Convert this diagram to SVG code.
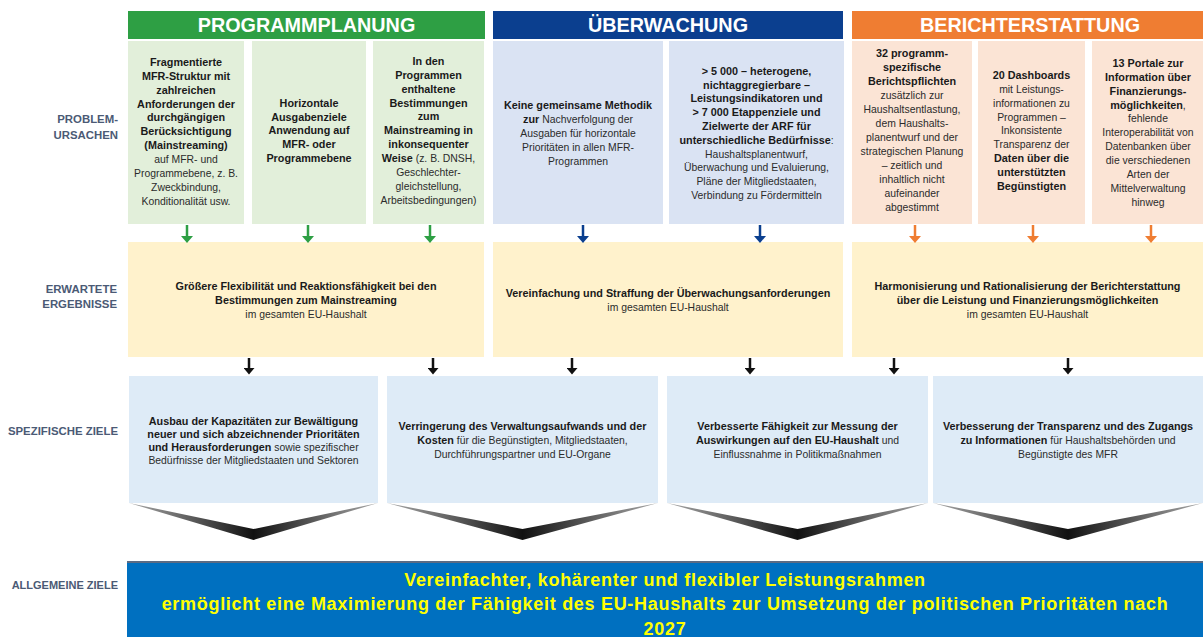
<svg xmlns="http://www.w3.org/2000/svg" width="1203" height="637" viewBox="0 0 1203 637">
<style>
.t{font-family:"Liberation Sans",Arial,sans-serif;text-anchor:middle;fill:#1a1a1a}
.b{font-weight:700;font-size:10.8px}
.r{font-weight:400;font-size:10.4px;fill:#2b2b2b}
.hd{font-family:"Liberation Sans",Arial,sans-serif;font-weight:700;font-size:19.8px;fill:#fff;text-anchor:middle}
.lbl{font-family:"Liberation Sans",Arial,sans-serif;font-weight:700;font-size:11.4px;fill:#4b5a75;text-anchor:end}
.ban{font-family:"Liberation Sans",Arial,sans-serif;font-weight:700;font-size:18px;letter-spacing:0.7px;fill:#ffff00;text-anchor:middle}
.pg{fill:#e2efda}.pb{fill:#dae3f3}.po{fill:#fbe4d5}.ey{fill:#fff2cc}.sz{fill:#deebf7}
.chev{fill:url(#chevGrad)}
</style>
<defs>
<linearGradient id="chevGrad" x1="0" y1="0" x2="1" y2="0">
<stop offset="0" stop-color="#a8a8a8"/><stop offset="0.5" stop-color="#111"/><stop offset="1" stop-color="#a8a8a8"/>
</linearGradient>
<marker id="hG" viewBox="0 0 12 7" refX="6" refY="0" markerWidth="12" markerHeight="7" markerUnits="userSpaceOnUse"><path d="M0,0 L12,0 L6,7 z" fill="#2e9f44"/></marker>
<marker id="hB" viewBox="0 0 12 7" refX="6" refY="0" markerWidth="12" markerHeight="7" markerUnits="userSpaceOnUse"><path d="M0,0 L12,0 L6,7 z" fill="#0b3f8f"/></marker>
<marker id="hO" viewBox="0 0 12 7" refX="6" refY="0" markerWidth="12" markerHeight="7" markerUnits="userSpaceOnUse"><path d="M0,0 L12,0 L6,7 z" fill="#ef7d32"/></marker>
<marker id="hK" viewBox="0 0 12 7" refX="6" refY="0" markerWidth="11" markerHeight="7" markerUnits="userSpaceOnUse"><path d="M0,0 L12,0 L6,7 z" fill="#111"/></marker>
</defs>
<rect width="1203" height="637" fill="#fff"/>

<g id="row-labels">
<text class="lbl" x="118" y="122.5">PROBLEM-</text>
<text class="lbl" x="118" y="139">URSACHEN</text>
<text class="lbl" x="117" y="292.5">ERWARTETE</text>
<text class="lbl" x="117" y="307.5">ERGEBNISSE</text>
<text class="lbl" x="118" y="435">SPEZIFISCHE ZIELE</text>
<text class="lbl" x="118" y="589" style="font-size:11px">ALLGEMEINE ZIELE</text>
</g>

<g id="header-programmplanung"><rect x="128" y="11" width="357" height="28" fill="#2e9f44"/><text class="hd" x="306.5" y="32">PROGRAMMPLANUNG</text></g>
<g id="header-ueberwachung"><rect x="493" y="11" width="350" height="28" fill="#0b3f8f"/><text class="hd" x="668" y="32">ÜBERWACHUNG</text></g>
<g id="header-berichterstattung"><rect x="852" y="11" width="351" height="28" fill="#ef7d32"/><text class="hd" x="1030" y="32">BERICHTERSTATTUNG</text></g>

<g id="p1"><rect class="pg" x="128" y="41" width="116" height="183"/>
<text class="t" y="65.8"><tspan class="b" x="186">Fragmentierte</tspan><tspan class="b" x="186" dy="13.9">MFR-Struktur mit</tspan><tspan class="b" x="186" dy="13.9">zahlreichen</tspan><tspan class="b" x="186" dy="13.9">Anforderungen der</tspan><tspan class="b" x="186" dy="13.9">durchgängigen</tspan><tspan class="b" x="186" dy="13.9">Berücksichtigung</tspan><tspan class="b" x="186" dy="13.9">(Mainstreaming)</tspan><tspan class="r" x="186" dy="13.9">auf MFR- und</tspan><tspan class="r" x="186" dy="13.9">Programmebene, z. B.</tspan><tspan class="r" x="186" dy="13.9">Zweckbindung,</tspan><tspan class="r" x="186" dy="13.9">Konditionalität usw.</tspan></text></g>

<g id="p2"><rect class="pg" x="252" y="41" width="114" height="183"/>
<text class="t" y="106.8"><tspan class="b" x="309">Horizontale</tspan><tspan class="b" x="309" dy="13.8">Ausgabenziele</tspan><tspan class="b" x="309" dy="13.8">Anwendung auf</tspan><tspan class="b" x="309" dy="13.8">MFR- oder</tspan><tspan class="b" x="309" dy="13.8">Programmebene</tspan></text></g>

<g id="p3"><rect class="pg" x="373" y="41" width="111" height="183"/>
<text class="t" y="64.8"><tspan class="b" x="428.5">In den</tspan><tspan class="b" x="428.5" dy="13.9">Programmen</tspan><tspan class="b" x="428.5" dy="13.9">enthaltene</tspan><tspan class="b" x="428.5" dy="13.9">Bestimmungen</tspan><tspan class="b" x="428.5" dy="13.9">zum</tspan><tspan class="b" x="428.5" dy="13.9">Mainstreaming in</tspan><tspan class="b" x="428.5" dy="13.9">inkonsequenter</tspan><tspan x="428.5" dy="13.9"><tspan class="b">Weise</tspan><tspan class="r"> (z. B. DNSH,</tspan></tspan><tspan class="r" x="428.5" dy="13.9">Geschlechter-</tspan><tspan class="r" x="428.5" dy="13.9">gleichstellung,</tspan><tspan class="r" x="428.5" dy="13.9">Arbeitsbedingungen)</tspan></text></g>

<g id="m1"><rect class="pb" x="493" y="41" width="170" height="183"/>
<text class="t" y="108.8"><tspan class="b" x="578">Keine gemeinsame Methodik</tspan><tspan x="578" dy="14"><tspan class="b">zur</tspan><tspan class="r"> Nachverfolgung der</tspan></tspan><tspan class="r" x="578" dy="14">Ausgaben für horizontale</tspan><tspan class="r" x="578" dy="14">Prioritäten in allen MFR-</tspan><tspan class="r" x="578" dy="14">Programmen</tspan></text></g>

<g id="m2"><rect class="pb" x="669" y="41" width="175" height="183"/>
<text class="t" y="74.8"><tspan class="b" x="756.5">&gt; 5 000 – heterogene,</tspan><tspan class="b" x="756.5" dy="13.8">nichtaggregierbare –</tspan><tspan class="b" x="756.5" dy="13.8">Leistungsindikatoren und</tspan><tspan class="b" x="756.5" dy="13.8">&gt; 7 000 Etappenziele und</tspan><tspan class="b" x="756.5" dy="13.8">Zielwerte der ARF für</tspan><tspan x="756.5" dy="13.8"><tspan class="b">unterschiedliche Bedürfnisse</tspan><tspan class="r">:</tspan></tspan><tspan class="r" x="756.5" dy="13.8">Haushaltsplanentwurf,</tspan><tspan class="r" x="756.5" dy="13.8">Überwachung und Evaluierung,</tspan><tspan class="r" x="756.5" dy="13.8">Pläne der Mitgliedstaaten,</tspan><tspan class="r" x="756.5" dy="13.8">Verbindung zu Fördermitteln</tspan></text></g>

<g id="r1"><rect class="po" x="852" y="41" width="120" height="183"/>
<text class="t" y="56.8"><tspan class="b" x="912">32 programm-</tspan><tspan class="b" x="912" dy="14">spezifische</tspan><tspan class="b" x="912" dy="14">Berichtspflichten</tspan><tspan class="r" x="912" dy="14">zusätzlich zur</tspan><tspan class="r" x="912" dy="14">Haushaltsentlastung,</tspan><tspan class="r" x="912" dy="14">dem Haushalts-</tspan><tspan class="r" x="912" dy="14">planentwurf und der</tspan><tspan class="r" x="912" dy="14">strategischen Planung</tspan><tspan class="r" x="912" dy="14">– zeitlich und</tspan><tspan class="r" x="912" dy="14">inhaltlich nicht</tspan><tspan class="r" x="912" dy="14">aufeinander</tspan><tspan class="r" x="912" dy="14">abgestimmt</tspan></text></g>

<g id="r2"><rect class="po" x="978" y="41" width="107" height="183"/>
<text class="t" y="78.8"><tspan class="b" x="1031.5">20 Dashboards</tspan><tspan class="r" x="1031.5" dy="13.9">mit Leistungs-</tspan><tspan class="r" x="1031.5" dy="13.9">informationen zu</tspan><tspan class="r" x="1031.5" dy="13.9">Programmen –</tspan><tspan class="r" x="1031.5" dy="13.9">Inkonsistente</tspan><tspan class="r" x="1031.5" dy="13.9">Transparenz der</tspan><tspan class="b" x="1031.5" dy="13.9">Daten über die</tspan><tspan class="b" x="1031.5" dy="13.9">unterstützten</tspan><tspan class="b" x="1031.5" dy="13.9">Begünstigten</tspan></text></g>

<g id="r3"><rect class="po" x="1092" y="41" width="111" height="183"/>
<text class="t" y="66.8"><tspan class="b" x="1148">13 Portale zur</tspan><tspan class="b" x="1148" dy="13.9">Information über</tspan><tspan class="b" x="1148" dy="13.9">Finanzierungs-</tspan><tspan x="1148" dy="13.9"><tspan class="b">möglichkeiten</tspan><tspan class="r">,</tspan></tspan><tspan class="r" x="1148" dy="13.9">fehlende</tspan><tspan class="r" x="1148" dy="13.9">Interoperabilität von</tspan><tspan class="r" x="1148" dy="13.9">Datenbanken über</tspan><tspan class="r" x="1148" dy="13.9">die verschiedenen</tspan><tspan class="r" x="1148" dy="13.9">Arten der</tspan><tspan class="r" x="1148" dy="13.9">Mittelverwaltung</tspan><tspan class="r" x="1148" dy="13.9">hinweg</tspan></text></g>

<g id="e1"><rect class="ey" x="128" y="242" width="356" height="115"/>
<text class="t" y="289.8"><tspan class="b" x="306">Größere Flexibilität und Reaktionsfähigkeit bei den</tspan><tspan class="b" x="306" dy="14">Bestimmungen zum Mainstreaming</tspan><tspan class="r" x="306" dy="14">im gesamten EU-Haushalt</tspan></text></g>

<g id="e2"><rect class="ey" x="493" y="242" width="350" height="115"/>
<text class="t" y="296.8"><tspan class="b" x="668">Vereinfachung und Straffung der Überwachungsanforderungen</tspan><tspan class="r" x="668" dy="14">im gesamten EU-Haushalt</tspan></text></g>

<g id="e3"><rect class="ey" x="852" y="242" width="351" height="115"/>
<text class="t" y="289.8"><tspan class="b" x="1027.5">Harmonisierung und Rationalisierung der Berichterstattung</tspan><tspan class="b" x="1027.5" dy="14">über die Leistung und Finanzierungsmöglichkeiten</tspan><tspan class="r" x="1027.5" dy="14">im gesamten EU-Haushalt</tspan></text></g>

<g id="s1"><rect class="sz" x="129" y="376" width="249" height="127"/><polygon class="chev" points="129,503 253.5,529 378,503 253.5,540"/>
<text class="t" y="424.8"><tspan class="b" x="253.5">Ausbau der Kapazitäten zur Bewältigung</tspan><tspan class="b" x="253.5" dy="13">neuer und sich abzeichnender Prioritäten</tspan><tspan x="253.5" dy="13"><tspan class="b">und Herausforderungen</tspan><tspan class="r"> sowie spezifischer</tspan></tspan><tspan class="r" x="253.5" dy="13">Bedürfnisse der Mitgliedstaaten und Sektoren</tspan></text></g>

<g id="s2"><rect class="sz" x="387" y="376" width="271" height="127"/><polygon class="chev" points="387,503 522.5,529 658,503 522.5,540"/>
<text class="t" y="429.8"><tspan class="b" x="522.5">Verringerung des Verwaltungsaufwands und der</tspan><tspan x="522.5" dy="14"><tspan class="b">Kosten</tspan><tspan class="r"> für die Begünstigten, Mitgliedstaaten,</tspan></tspan><tspan class="r" x="522.5" dy="14">Durchführungspartner und EU-Organe</tspan></text></g>

<g id="s3"><rect class="sz" x="667" y="376" width="261" height="127"/><polygon class="chev" points="667,503 797.5,529 928,503 797.5,540"/>
<text class="t" y="429.8"><tspan class="b" x="797.5">Verbesserte Fähigkeit zur Messung der</tspan><tspan x="797.5" dy="14"><tspan class="b">Auswirkungen auf den EU-Haushalt</tspan><tspan class="r"> und</tspan></tspan><tspan class="r" x="797.5" dy="14">Einflussnahme in Politikmaßnahmen</tspan></text></g>

<g id="s4"><rect class="sz" x="933" y="376" width="270" height="127"/><polygon class="chev" points="933,503 1068,529 1203,503 1068,540"/>
<text class="t" y="429.8"><tspan class="b" x="1068">Verbesserung der Transparenz und des Zugangs</tspan><tspan x="1068" dy="14"><tspan class="b">zu Informationen</tspan><tspan class="r"> für Haushaltsbehörden und</tspan></tspan><tspan class="r" x="1068" dy="14">Begünstigte des MFR</tspan></text></g>

<g id="general-goal"><rect x="127" y="561" width="1076" height="76" fill="#0070c0"/><rect x="127" y="561" width="1076" height="2" fill="#5b6b83"/>
<text class="ban" x="665" y="585.5">Vereinfachter, kohärenter und flexibler Leistungsrahmen</text>
<text class="ban" x="665" y="610">ermöglicht eine Maximierung der Fähigkeit des EU-Haushalts zur Umsetzung der politischen Prioritäten nach</text>
<text class="ban" x="665" y="634.5">2027</text></g>

<g id="connectors" stroke-width="2.5">
<line x1="187" y1="225" x2="187" y2="236" stroke="#2e9f44" marker-end="url(#hG)"/>
<line x1="308" y1="225" x2="308" y2="236" stroke="#2e9f44" marker-end="url(#hG)"/>
<line x1="430" y1="225" x2="430" y2="236" stroke="#2e9f44" marker-end="url(#hG)"/>
<line x1="583" y1="225" x2="583" y2="236" stroke="#0b3f8f" marker-end="url(#hB)"/>
<line x1="760" y1="225" x2="760" y2="236" stroke="#0b3f8f" marker-end="url(#hB)"/>
<line x1="915" y1="225" x2="915" y2="236" stroke="#ef7d32" marker-end="url(#hO)"/>
<line x1="1033" y1="225" x2="1033" y2="236" stroke="#ef7d32" marker-end="url(#hO)"/>
<line x1="1151" y1="225" x2="1151" y2="236" stroke="#ef7d32" marker-end="url(#hO)"/>
<line x1="249" y1="358" x2="249" y2="368" stroke="#111" marker-end="url(#hK)"/>
<line x1="433" y1="358" x2="433" y2="368" stroke="#111" marker-end="url(#hK)"/>
<line x1="572" y1="358" x2="572" y2="368" stroke="#111" marker-end="url(#hK)"/>
<line x1="750" y1="358" x2="750" y2="368" stroke="#111" marker-end="url(#hK)"/>
<line x1="894" y1="358" x2="894" y2="368" stroke="#111" marker-end="url(#hK)"/>
<line x1="1068" y1="358" x2="1068" y2="368" stroke="#111" marker-end="url(#hK)"/>
</g>
</svg>
